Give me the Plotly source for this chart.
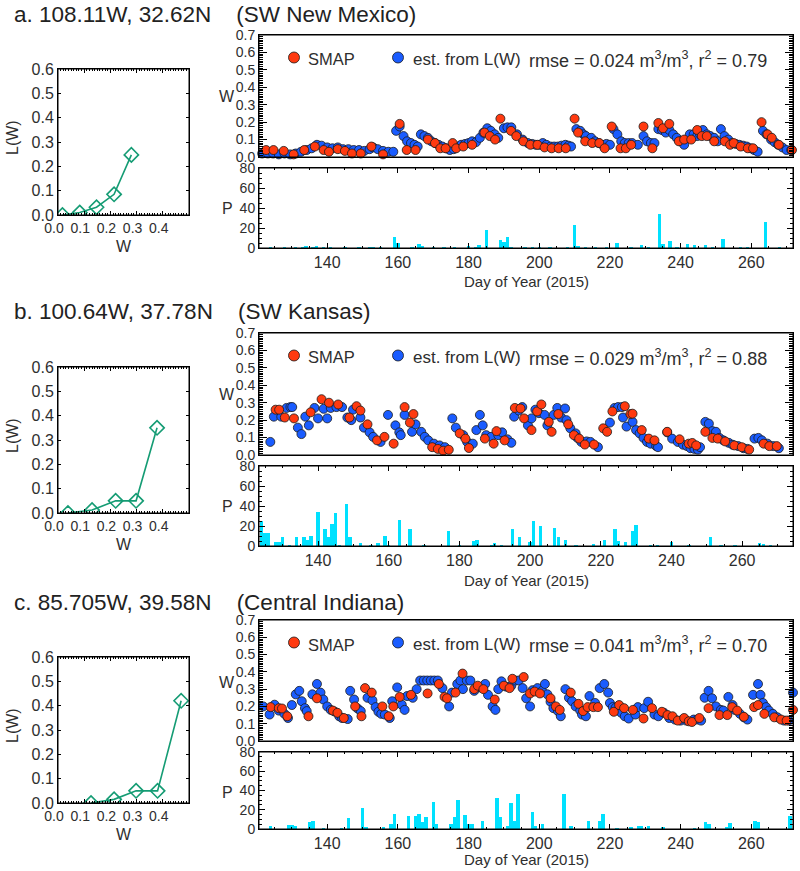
import plotly.graph_objects as go

FW, FH = 800, 871
FONT = "Liberation Sans, Arial, Helvetica, sans-serif"
INK = "#2e2e2e"
RED = "#ff3a10"
BLUE = "#1a5cff"
CYAN = "#00e1ff"
TEAL = "#159c74"

# ------------------------------------------------------------------ data
site_names = ["a. 108.11W, 32.62N", "b. 100.64W, 37.78N", "c. 85.705W, 39.58N"]
site_regions = ["(SW New Mexico)", "(SW Kansas)", "(Central Indiana)"]
rmse_vals = ["0.024", "0.029", "0.041"]
r2_vals = ["0.79", "0.88", "0.70"]

# L(W) lookup curves
lw_w_a = [0.017, 0.083, 0.147, 0.214, 0.280]
lw_l_a = [0.000, 0.010, 0.032, 0.085, 0.247]
lw_w_b = [0.038, 0.130, 0.220, 0.298, 0.378]
lw_l_b = [0.000, 0.012, 0.050, 0.050, 0.350]
lw_w_c = [0.126, 0.214, 0.298, 0.380, 0.470]
lw_l_c = [0.000, 0.015, 0.050, 0.050, 0.420]

# estimated W from L(W)  (day, W)
est_a = [(121.6,0.02),(123.2,0.02),(124.7,0.02),(126.3,0.015),(127.9,0.02),(129.5,0.015),(131.1,0.02),
 (132.6,0.03),(134.2,0.04),(135.6,0.05),(137.1,0.07),(138.4,0.065),(140,0.055),(141.5,0.05),(143,0.055),
 (144.5,0.045),(146,0.045),(147.5,0.04),(149,0.04),(150.5,0.035),(152,0.045),(153,0.055),(154.3,0.045),
 (155.8,0.035),(157.3,0.03),(158.7,0.03),
 (159.5,0.15),(160.5,0.175),(161.6,0.12),(162.6,0.09),(163.7,0.08),(164.7,0.07),(165.6,0.06),
 (166.5,0.13),(167.5,0.12),(168.5,0.11),(169.5,0.09),(170.5,0.08),(171.5,0.07),(172.6,0.06),(173.7,0.05),
 (174.7,0.04),(175.8,0.045),(176.9,0.06),(177.9,0.07),(179,0.075),(180,0.08),(181,0.09),(182.1,0.085),
 (183.2,0.11),(184.2,0.14),(185.3,0.165),(186.3,0.15),(187.4,0.13),(188.4,0.11),
 (190,0.165),(191,0.17),(192.1,0.17),(193.7,0.13),(195.3,0.10),(196.8,0.08),(198,0.075),(199,0.07),
 (200,0.07),(201,0.08),(202,0.07),(203.2,0.06),(204.2,0.06),(205.3,0.06),(206.3,0.065),(207.4,0.07),
 (208.3,0.065),(209,0.06),
 (210.5,0.16),(211.6,0.15),(212.5,0.13),(213.2,0.12),(214.7,0.11),(215.8,0.09),(216.8,0.08),(217.9,0.07),
 (219,0.075),(220,0.07),
 (221,0.16),(222.1,0.13),(223.2,0.09),(224.2,0.08),(225.3,0.08),(226.3,0.08),(227.9,0.07),
 (229.5,0.12),(230.5,0.09),(231.6,0.08),(232.6,0.08),
 (233.7,0.16),(234.7,0.155),(235.8,0.14),(236.8,0.155),(237.9,0.13),(238.9,0.11),(240,0.09),(241,0.07),
 (242.6,0.13),(243.7,0.13),(244.7,0.12),(245.5,0.13),(246.3,0.155),(247.4,0.13),(248.4,0.12),(249.5,0.11),
 (250.5,0.09),
 (251.4,0.16),(252.4,0.12),(253.5,0.10),(254.5,0.08),(255.6,0.075),(256.6,0.07),(257.7,0.065),(258.7,0.06),
 (259.8,0.05),(260.8,0.04),(261.8,0.03),
 (263.3,0.15),(264.3,0.13),(265.6,0.10),(266.6,0.085),(267.6,0.07),(268.8,0.055),(270,0.04),(271.3,0.04)]

est_b = [(126.5,0.075),(127.5,0.22),(129.6,0.22),(131.1,0.27),(132.2,0.275),(132.7,0.275),(134.3,0.157),
 (135.3,0.12),(136.4,0.22),(137.4,0.17),(139,0.27),(140,0.21),(141.6,0.265),(142.6,0.21),(143.6,0.27),
 (145.2,0.275),(146.8,0.275),(148.3,0.215),(149.4,0.20),(149.9,0.26),(152,0.215),(153,0.157),(154.6,0.13),
 (155.6,0.104),(157.7,0.075),(159.8,0.23),(161.9,0.17),(163,0.13),(163.4,0.114),(164.5,0.23),(166.6,0.133),
 (167.6,0.176),(169.2,0.133),(170.2,0.104),(171.2,0.084),(172.8,0.065),(174.4,0.055),(175.9,0.045),
 (178,0.21),(179,0.157),(181.1,0.114),(182.2,0.075),(183.8,0.065),(184.8,0.143),(185.8,0.23),(186.6,0.17),
 (187.6,0.114),(189,0.104),(191,0.114),(192.1,0.13),(193.6,0.09),(194.7,0.07),(195.5,0.22),(196.8,0.255),
 (197.8,0.275),(199.4,0.17),(200.4,0.21),(201.5,0.26),(202.5,0.24),(204.1,0.23),(204.9,0.17),(206.7,0.23),
 (207.7,0.27),(208.8,0.215),(209.9,0.267),(210.3,0.20),(211.4,0.153),(212.9,0.124),(213.4,0.098),
 (214.5,0.075),(216,0.078),(217.1,0.075),(219.2,0.045),(222.6,0.186),(223.9,0.27),(224.9,0.275),(226,0.275),
 (226.3,0.215),(227.3,0.163),(229,0.19),(230,0.143),(231,0.124),(232.1,0.098),(233.1,0.075),(234.1,0.065),
 (235.7,0.051),(236.2,0.045),(238.8,0.13),(240.2,0.094),(241.8,0.075),(243.3,0.059),(244.4,0.051),
 (245.4,0.039),(246.5,0.035),(247.5,0.031),(248.1,0.045),(249.6,0.19),(250.6,0.18),(251.6,0.137),
 (252.6,0.133),(253.6,0.098),(254.7,0.084),(256.2,0.07),(257.3,0.059),(258.9,0.051),(260.4,0.039),
 (261.5,0.035),(263.5,0.094),(264.6,0.098),(265.6,0.084),(267.2,0.065),(268.8,0.051),(270.4,0.039)]

est_c = [(121.9,0.20),(123.7,0.153),(125.1,0.21),(126.3,0.176),(127.9,0.157),(128.9,0.133),(130,0.208),
 (131.1,0.27),(132.1,0.29),(132.8,0.23),(133.7,0.19),(134.2,0.173),(135.8,0.27),(137.1,0.33),(138.1,0.28),
 (138.9,0.24),(140,0.20),(141,0.18),(142.1,0.17),(143.4,0.143),(144.2,0.133),(145.8,0.127),(146.5,0.29),
 (147.6,0.24),(148.6,0.188),(149.5,0.173),(151.4,0.25),(152.8,0.235),(153.7,0.196),(154.5,0.169),
 (155.3,0.157),(156.3,0.153),(157.7,0.133),(158.4,0.23),(159.8,0.31),(161.1,0.21),(161.9,0.18),(162.6,0.26),
 (164.2,0.25),(165.3,0.30),(166.3,0.35),(167.3,0.35),(168.3,0.35),(169.3,0.35),(170.3,0.35),(171.3,0.35),
 (172.6,0.306),(174.5,0.20),(175.3,0.28),(176.8,0.33),(177.7,0.35),(178.4,0.30),(179.5,0.35),(180.5,0.35),
 (181.6,0.29),(183.2,0.31),(184.7,0.33),(185.5,0.267),(186.8,0.20),(187.6,0.18),(188.4,0.30),(189.3,0.345),
 (190.7,0.314),(192.1,0.32),(193.2,0.35),(194.2,0.35),(195.3,0.306),(196.3,0.247),(197.4,0.20),(198.1,0.294),
 (199.5,0.306),(200.8,0.29),(201.6,0.33),(202.3,0.27),(203.2,0.227),(204,0.19),(205.3,0.173),(206.1,0.143),
 (207.4,0.30),(208.4,0.25),(209.3,0.23),(210.3,0.20),(211.6,0.176),(212.1,0.153),(213.2,0.143),(214.2,0.26),
 (215.8,0.22),(217.1,0.306),(218.4,0.33),(219.5,0.28),(220,0.22),(220.8,0.196),(221.6,0.192),(223.2,0.163),
 (224.2,0.143),(225.3,0.13),(227.2,0.153),(227.9,0.196),(229.7,0.19),(230.8,0.227),(232.6,0.153),
 (233.7,0.143),(235.3,0.163),(236.8,0.133),(238.4,0.124),(240,0.118),(241.6,0.118),(243.7,0.124),
 (244.7,0.124),(245.8,0.118),(246.8,0.25),(247.9,0.29),(248.9,0.247),(250,0.20),(251.4,0.18),(252.1,0.176),
 (253.5,0.255),(254.7,0.208),(255.3,0.18),(256.8,0.157),(257.9,0.137),(258.9,0.124),(260.5,0.267),
 (261.9,0.33),(262.6,0.267),(263.3,0.22),(264.2,0.196),(265,0.176),(266.1,0.157),(267.4,0.137),
 (269.3,0.118),(270.6,0.118),(271.8,0.28)]

# SMAP retrievals  (day, W)
smap_a = [(122.7,0.04),(124.8,0.04),(127.7,0.035),(130.5,0.015),(133.5,0.04),(136.5,0.06),(139,0.04),
 (140.5,0.03),(143,0.045),(145,0.035),(147,0.02),(149.5,0.02),(152.5,0.06),(155.8,0.015),(160.5,0.19),
 (162.5,0.04),(165,0.04),(168.5,0.10),(170.5,0.08),(172,0.05),(173.5,0.05),(175.5,0.08),(176.5,0.05),
 (178.5,0.06),(181,0.07),(184.5,0.14),(186,0.12),(187.5,0.10),(189,0.22),(192,0.15),(193.5,0.12),
 (195.5,0.09),(197.5,0.07),(199.5,0.07),(201.5,0.055),(203.5,0.05),(205.5,0.05),(207.5,0.05),(210,0.22),
 (211,0.14),(213,0.09),(215,0.08),(217,0.08),(218.5,0.05),(220.5,0.175),(223,0.05),(224.5,0.05),(226,0.07),
 (229.5,0.175),(232,0.05),(233.7,0.195),(235,0.165),(236.8,0.19),(239.5,0.09),(241,0.10),(243,0.10),
 (244.7,0.155),(246,0.12),(247.4,0.12),(249.5,0.09),(252.5,0.09),(254,0.07),(255,0.08),(257,0.06),
 (259,0.05),(260.5,0.05),(262.9,0.20),(264.6,0.13),(265.8,0.11),(267.8,0.07),(271.5,0.04)]

smap_b = [(128,0.26),(129,0.26),(130.6,0.215),(133.2,0.21),(137.9,0.245),(141,0.32),(143.1,0.30),
 (145.7,0.29),(148.9,0.215),(150.9,0.28),(152,0.255),(154,0.176),(156.7,0.084),(158.8,0.104),(161.4,0.065),
 (164.5,0.275),(166,0.186),(167,0.235),(172.3,0.045),(173.9,0.035),(175.4,0.025),(177,0.03),(180.1,0.124),
 (181.7,0.094),(182.7,0.04),(187.2,0.094),(189.7,0.065),(190.5,0.137),(192.8,0.084),(195.7,0.27),
 (197.3,0.267),(198.3,0.21),(200.4,0.143),(202,0.25),(203.2,0.29),(205.3,0.19),(206.1,0.133),(208,0.235),
 (210.8,0.176),(212.4,0.114),(213.9,0.094),(215.5,0.06),(218.1,0.06),(220.7,0.153),(221.8,0.133),
 (223.3,0.25),(226.8,0.28),(228.4,0.235),(229,0.237),(231.6,0.143),(233.6,0.094),(235.2,0.084),
 (238.8,0.133),(242.3,0.09),(244.9,0.065),(245.9,0.069),(247,0.055),(249.6,0.133),(251.6,0.098),
 (253.1,0.094),(255.2,0.078),(257.8,0.055),(259.9,0.045),(262,0.031),(266.1,0.065),(267.7,0.051),
 (269.8,0.051)]

smap_c = [(124,0.196),(126.3,0.19),(127.2,0.188),(128.7,0.143),(134.7,0.143),(137.1,0.247),(141.6,0.176),
 (142.9,0.163),(144.7,0.133),(147.9,0.20),(149.7,0.143),(150.7,0.306),(152.6,0.28),(155.6,0.20),
 (157.4,0.143),(158.7,0.20),(160.5,0.255),(163.7,0.267),(168.4,0.275),(171.6,0.33),(173.2,0.255),
 (173.9,0.247),(176.3,0.28),(178.3,0.39),(181.6,0.30),(182.6,0.32),(184.2,0.30),(187.4,0.24),(190,0.32),
 (191.6,0.306),(192.4,0.36),(195.6,0.37),(197.4,0.275),(198.7,0.286),(200.2,0.275),(203.2,0.247),
 (204.7,0.20),(205.8,0.18),(208.9,0.28),(211.1,0.215),(212.4,0.173),(213.7,0.196),(215.3,0.196),
 (216.6,0.196),(221.1,0.169),(222.6,0.208),(224,0.19),(226.5,0.18),(229.5,0.13),(231.9,0.19),
 (234.7,0.169),(236.3,0.15),(237.7,0.143),(239.2,0.118),(241,0.133),(242.3,0.114),(243.2,0.11),
 (245.3,0.133),(247.9,0.19),(251,0.15),(253.2,0.15),(254.6,0.196),(256,0.176),(257.9,0.14),(260.8,0.196),
 (261.9,0.208),(263.7,0.157),(266.5,0.137),(268.4,0.124),(270,0.118),(271.8,0.18)]

# precipitation  (day, mm)
precip_a = [(124,1),(128,0.5),(131,1),(133,1),(134,1.5),(136,1),(137,2),(139,1),(141,0.5),(145,1),
 (149,0.5),(152,1),(153,1),(155,0.5),(159,11),(160,5),(164,1),(166,4.5),(167,2),(170,1),(173,1),(176,1),
 (180,2),(182,1),(183,3),(185,18),(189,8),(190,6),(191,11),(192,1),(196,1),(198,1),(200,1),(203,1),
 (208,1),(210,23),(211,1.5),(213,1),(216,1),(219,1),(222,5),(226,1),(229,3),(231,1),(234,34),(235,4.5),
 (237,7.5),(239,1),(242,4.5),(244,3.5),(247,3.5),(249,1),(252,9.5),(257,1),(259,1),(264,26),(268,1)]

precip_b = [(124,25),(125,13.5),(126,13.5),(128,4.5),(129,4.5),(130,9),(132,1),(134,9),(136,9),(137,6.5),
 (138,10),(140,34.5),(142,17),(143,9),(144,22),(145,33.5),(146,1),(148,42),(149,9),(152,3),(155,1),
 (157,3),(159,10),(160,1),(163,26.5),(166,17),(170,0.5),(177,15),(180,0.5),(184,5.5),(185,6),(189,1),
 (190,3),(192,0.5),(195,17),(197,9),(200,4.5),(201,25),(203,20.5),(207,18.5),(208,9),(210,6.5),(213,1),
 (218,2),(221,6.5),(224,17),(225,5.5),(227,4),(229,15),(230,21.5),(234,1),(236,0.5),(240,4.5),(245,0.5),
 (251,9),(254,1),(258,0.5),(265,3),(266,1.5),(268,0.5)]

precip_c = [(124,3.6),(129,4.6),(130,4.6),(131,3),(135,7),(136,8),(139,1),(144,1),(146,11),(150,21.6),
 (151,1.5),(156,1.5),(158,5.6),(159,16),(163,14),(165,14),(166,15.4),(167,7.2),(168,12),(170,28.5),
 (171,5.6),(175,5.6),(176,12),(177,30),(179,14.4),(180,5.6),(181,5.6),(184,8),(188,32),(189,12),(191,3),
 (192,27.5),(193,8),(194,36),(198,17.7),(199,3.6),(201,5),(207,36),(209,3),(214,8),(217,8),(218,16),
 (222,1),(226,1.5),(228,3),(229,3),(231,3.6),(235,1.5),(244,0.5),(247,7),(248,5),(253,2.3),(254,6.2),
 (261,8),(262,7),(271,13)]

lw_w = [lw_w_a, lw_w_b, lw_w_c]
lw_l = [lw_l_a, lw_l_b, lw_l_c]
est = [est_a, est_b, est_c]
smap = [smap_a, smap_b, smap_c]
precip = [precip_a, precip_b, precip_c]

# ------------------------------------------------------------------ geometry (pixels)
GEOM = [
    dict(title=14, L=(69, 215), W=(35, 157), P=(168, 248), day=282, lwx=246, xr=[120.7, 271.8]),
    dict(title=312, L=(367, 513), W=(333, 455), P=(466, 546), day=580, lwx=544, xr=[123.3, 274.4]),
    dict(title=602, L=(657, 803), W=(620, 741), P=(752, 829), day=859, lwx=834, xr=[120.7, 271.8]),
]
LX = (58, 189)
TX = (259, 793)

def xd(l, r):
    return [l / FW, r / FW]

def yd(t, b):
    return [1 - b / FH, 1 - t / FH]

def px(x):
    return x / FW

def py(y):
    return 1 - y / FH

def nm(n):
    return "" if n == 1 else str(n)

fig = go.Figure()
lay = dict(width=FW, height=FH, margin=dict(l=0, r=0, t=0, b=0, pad=0, autoexpand=False),
           paper_bgcolor="white", plot_bgcolor="white", showlegend=False,
           font=dict(family=FONT, color=INK))
ann = []
shp = []

base = dict(showline=True, linecolor="black", linewidth=1, showgrid=False, zeroline=False,
            automargin=False, tickcolor="black")

def A(x, y, text, size, xanchor="center", angle=0, color=INK):
    ann.append(dict(xref="paper", yref="paper", x=px(x), y=py(y), text=text, showarrow=False,
                    xanchor=xanchor, yanchor="middle", textangle=angle,
                    font=dict(size=size, color=color, family=FONT)))

def frame(xs, ys):
    shp.append(dict(type="rect", xref="paper", yref="paper",
                    x0=px(xs[0]), x1=px(xs[1]), y0=py(ys[1]), y1=py(ys[0]),
                    line=dict(color="black", width=1), layer="above"))

extra = 10
for i in range(3):
    g = GEOM[i]
    nL, nW, nP = 3 * i + 1, 3 * i + 2, 3 * i + 3

    # ---- L(W) panel
    fig.add_trace(go.Scatter(
        x=lw_w[i], y=lw_l[i], mode="lines+markers",
        xaxis="x" + nm(nL), yaxis="y" + nm(nL),
        line=dict(color=TEAL, width=1.6),
        marker=dict(symbol="diamond-open", size=11, color=TEAL, line=dict(width=1.6))))
    lay["xaxis" + nm(nL)] = dict(base, domain=xd(*LX), anchor="y" + nm(nL), range=[0, 0.5],
        tickvals=[0, 0.1, 0.2, 0.3, 0.4], ticktext=["0.0", "0.1", "0.2", "0.3", "0.4"],
        ticks="inside", ticklen=4, mirror="ticks", ticklabelshift=-4,
        minor=dict(dtick=0.01, ticks="inside", ticklen=2, tickcolor="black", showgrid=False),
        tickfont=dict(size=14, color=INK))
    lay["yaxis" + nm(nL)] = dict(base, domain=yd(*g["L"]), anchor="x" + nm(nL),
        range=[0, 0.6], dtick=0.1, tickformat=".1f", ticks="inside", ticklen=3, mirror="ticks",
        tickfont=dict(size=16, color=INK))
    lay["xaxis%d" % extra] = dict(base, overlaying="x" + nm(nL), side="top", anchor="y" + nm(nL),
        range=[0, 0.5], tickvals=[0, 0.1, 0.2, 0.3, 0.4], ticks="inside", ticklen=4,
        showticklabels=False,
        minor=dict(dtick=0.01, ticks="inside", ticklen=2, tickcolor="black", showgrid=False))
    extra += 1
    frame(LX, g["L"])

    # ---- W time series
    ed = [p[0] for p in est[i]]
    ev = [p[1] for p in est[i]]
    sd = [p[0] for p in smap[i]]
    sv = [p[1] for p in smap[i]]
    fig.add_trace(go.Scatter(x=ed, y=ev, mode="markers", xaxis="x" + nm(nW), yaxis="y" + nm(nW),
        cliponaxis=False, marker=dict(size=9, color=BLUE, line=dict(color="#1c1c1c", width=0.8))))
    fig.add_trace(go.Scatter(x=sd, y=sv, mode="markers", xaxis="x" + nm(nW), yaxis="y" + nm(nW),
        cliponaxis=False, marker=dict(size=9, color=RED, line=dict(color="#1c1c1c", width=0.8))))
    lay["xaxis" + nm(nW)] = dict(base, domain=xd(*TX), anchor="y" + nm(nW), range=g["xr"],
        showticklabels=False, ticks="", mirror=True)
    wy = dict(range=[0, 0.7], dtick=0.1, ticks="inside", ticklen=8,
              minor=dict(dtick=0.01, ticks="inside", ticklen=4, tickcolor="black", showgrid=False))
    lay["yaxis" + nm(nW)] = dict(base, **wy, domain=yd(*g["W"]), anchor="x" + nm(nW),
        tickformat=".1f", mirror="ticks", tickfont=dict(size=14, color=INK))
    lay["yaxis%d" % extra] = dict(base, **wy, overlaying="y" + nm(nW), side="right",
        anchor="x" + nm(nW), showticklabels=False)
    extra += 1
    frame(TX, g["W"])

    # ---- precipitation
    pd_ = [p[0] for p in precip[i]]
    pv = [p[1] for p in precip[i]]
    fig.add_trace(go.Bar(x=pd_, y=pv, width=0.95, xaxis="x" + nm(nP), yaxis="y" + nm(nP),
        marker=dict(color=CYAN, line=dict(width=0))))
    pxa = dict(range=g["xr"], tick0=0, dtick=20, ticks="inside", ticklen=5)
    lay["xaxis" + nm(nP)] = dict(base, **pxa, domain=xd(*TX), anchor="y" + nm(nP), mirror="ticks",
        minor=dict(dtick=5, ticks="inside", ticklen=2, tickcolor="black", showgrid=False),
        tickfont=dict(size=16, color=INK))
    lay["xaxis%d" % extra] = dict(base, **pxa, overlaying="x" + nm(nP), side="top",
        anchor="y" + nm(nP), showticklabels=False)
    extra += 1
    pya = dict(range=[0, 80], tickvals=[0, 20, 40, 60, 80], ticks="inside", ticklen=6,
               minor=dict(dtick=5, ticks="inside", ticklen=3, tickcolor="black", showgrid=False))
    lay["yaxis" + nm(nP)] = dict(base, **pya, domain=yd(*g["P"]), anchor="x" + nm(nP), mirror="ticks",
        tickfont=dict(size=14, color=INK))
    lay["yaxis%d" % extra] = dict(base, **pya, overlaying="y" + nm(nP), side="right",
        anchor="x" + nm(nP), showticklabels=False)
    extra += 1
    frame(TX, g["P"])

    # ---- texts
    t0 = g["title"]
    w0 = g["W"][0]
    A(12, t0, site_names[i] + "\u00a0\u00a0\u00a0\u00a0" + site_regions[i], 22.5, "left", color="#222")
    A(306, w0 + 24.5, "SMAP", 16.5, "left")
    A(411, w0 + 24.5, "est. from L(W)", 17, "left")
    A(527, w0 + 24.5, "rmse = " + rmse_vals[i] + " m<sup>3</sup>/m<sup>3</sup>, r<sup>2</sup> = " + r2_vals[i], 18, "left")
    A(227, w0 + 62, "W", 16)
    A(227, g["P"][0] + 40, "P", 16)
    A(12, (g["L"][0] + g["L"][1]) / 2 - 4, "L(W)", 16, angle=-90)
    A(124, g["lwx"], "W", 16)
    A(526, g["day"], "Day of Year (2015)", 15)

    for cx, col in ((294, RED), (398, BLUE)):
        shp.append(dict(type="circle", xref="paper", yref="paper", xsizemode="pixel", ysizemode="pixel",
                        xanchor=px(cx), yanchor=py(w0 + 22.5), x0=-5.5, x1=5.5, y0=-5.5, y1=5.5,
                        fillcolor=col, line=dict(color="#1c1c1c", width=0.8)))

lay["annotations"] = ann
lay["shapes"] = shp
lay["bargap"] = 0
fig.update_layout(**lay)
fig.write_html("out.html", config={"displayModeBar": False},
               post_script="document.body.style.margin='0';document.body.style.overflow='hidden';")
